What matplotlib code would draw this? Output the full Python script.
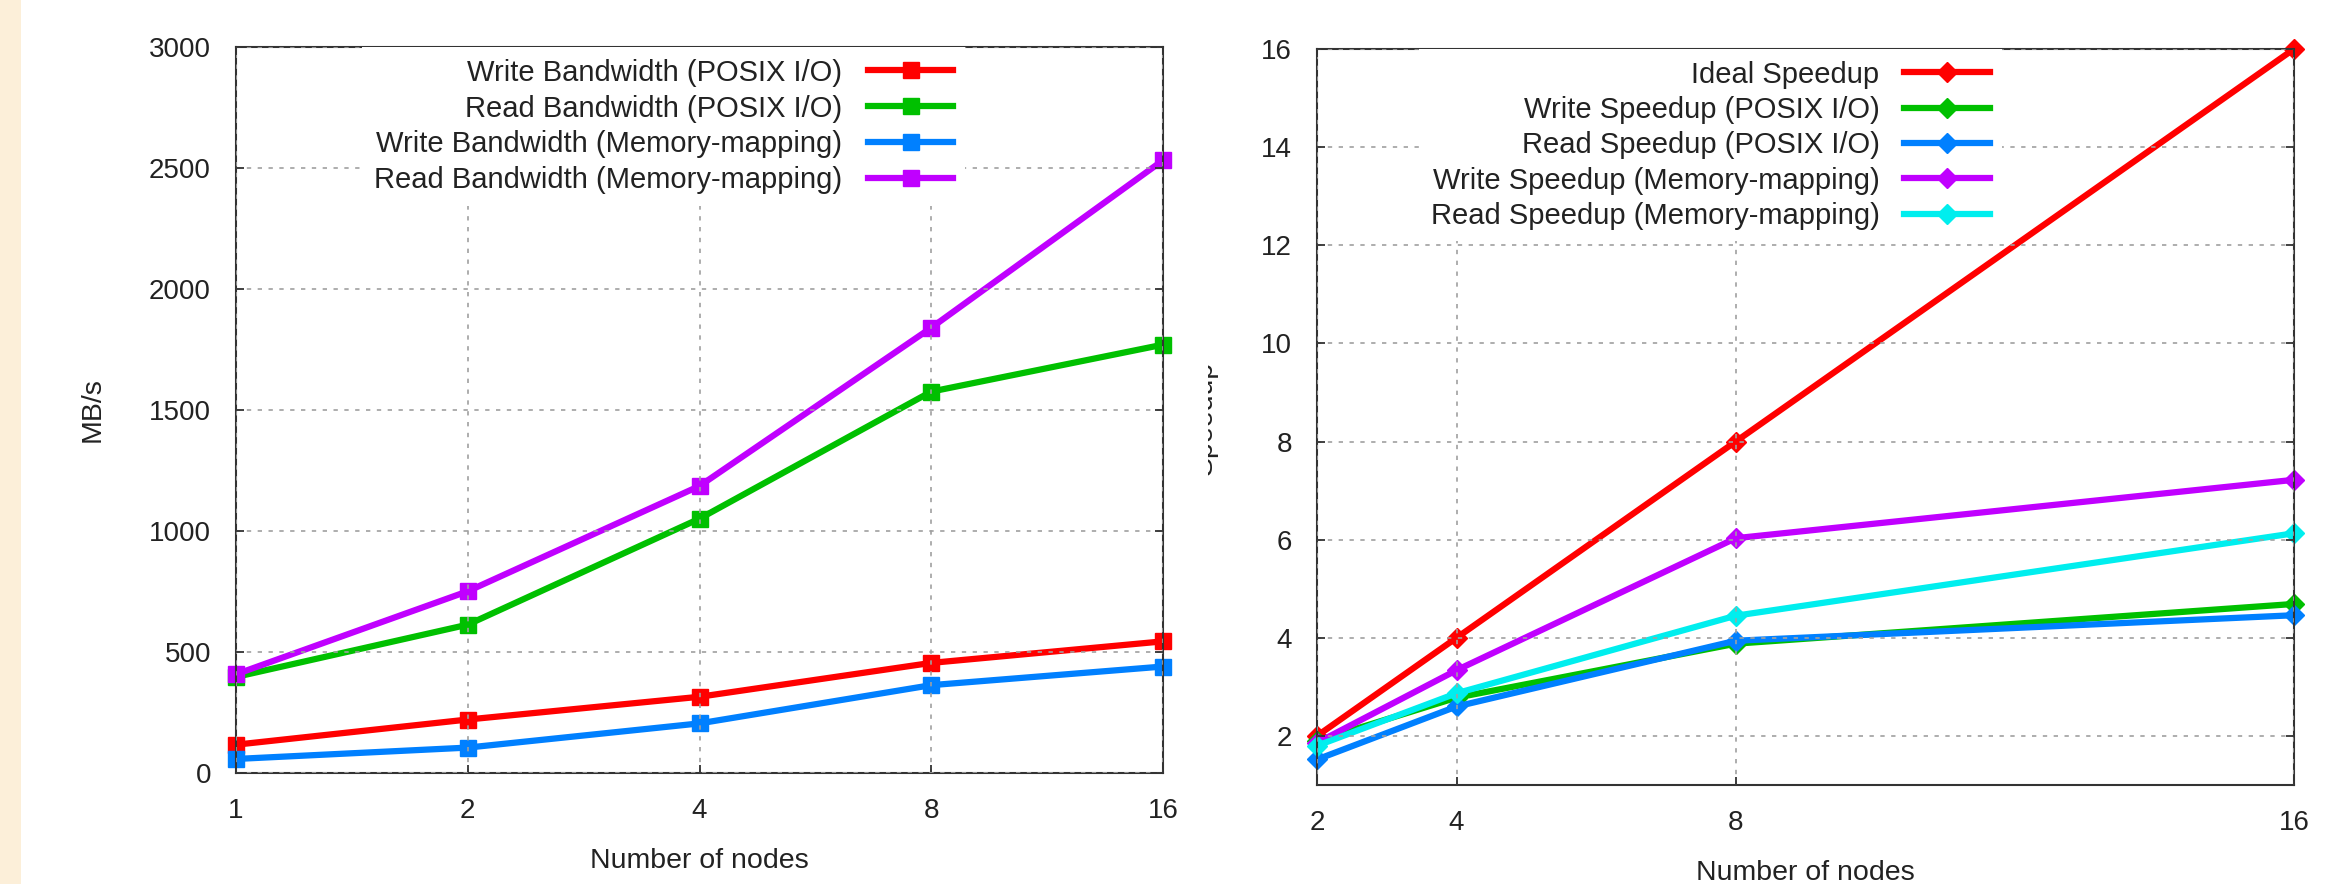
import matplotlib
matplotlib.use('Agg')
import matplotlib.pyplot as plt
from matplotlib.patches import Rectangle
from matplotlib.transforms import Bbox, TransformedBbox
from matplotlib.ticker import NullLocator

# node counts
nodes_bw = [1, 2, 4, 8, 16]
nodes_sp = [2, 4, 8, 16]

# bandwidth in MB/s
write_bw_posix = [117, 221, 315, 455, 544]
read_bw_posix = [397, 613, 1051, 1576, 1770]
write_bw_mmap = [58, 105, 205, 363, 440]
read_bw_mmap = [408, 751, 1186, 1840, 2532]

# speedups
ideal_sp = [2, 4, 8, 16]
write_sp_posix = [1.9, 2.78, 3.88, 4.69]
read_sp_posix = [1.52, 2.6, 3.94, 4.46]
write_sp_mmap = [1.86, 3.34, 6.03, 7.22]
read_sp_mmap = [1.8, 2.87, 4.45, 6.13]

bw_labels = ['Write Bandwidth (POSIX I/O)', 'Read Bandwidth (POSIX I/O)',
             'Write Bandwidth (Memory-mapping)', 'Read Bandwidth (Memory-mapping)']
sp_labels = ['Ideal Speedup', 'Write Speedup (POSIX I/O)', 'Read Speedup (POSIX I/O)',
             'Write Speedup (Memory-mapping)', 'Read Speedup (Memory-mapping)']

RED, GREEN, BLUE, PURPLE, CYAN = '#ff0000', '#00c000', '#0080ff', '#c000ff', '#00eeee'
TXT = '#222222'

plt.rcParams['font.family'] = ['Liberation Sans', 'DejaVu Sans']

W, H = 2336, 884
fig = plt.figure(figsize=(W / 100, H / 100), dpi=100)
fig.patch.set_facecolor('white')

# orange strip on the far left
fig.patches.append(Rectangle((0, 0), 21 / W, 1, transform=fig.transFigure,
                             facecolor='#fcefd9', edgecolor='none', zorder=0))


def px_axes(x0, y0, x1, y1):
    return fig.add_axes([x0 / W, (H - y1) / H, (x1 - x0) / W, (y1 - y0) / H])


def style_axes(ax):
    for s in ax.spines.values():
        s.set_color('#333333')
        s.set_linewidth(1.5)
    ax.tick_params(direction='in', length=6, width=1.3, color='#333333',
                   top=True, right=True, labelsize=20, labelcolor=TXT, pad=18)
    ax.grid(True, color='#a0a0a0', linestyle=(0, (2.6, 3.9)), linewidth=1.2)
    ax.set_axisbelow(False)


# ---- left: bandwidth
ax1 = px_axes(236, 47, 1163, 773)
style_axes(ax1)
ax1.set_xscale('log', base=2)
series = [(write_bw_posix, RED), (read_bw_posix, GREEN),
          (write_bw_mmap, BLUE), (read_bw_mmap, PURPLE)]
for (vals, c), lab in zip(series, bw_labels):
    ax1.plot(nodes_bw, vals, color=c, lw=4.5, marker='s', ms=11.5, label=lab, clip_on=False)
ax1.set_xlim(1, 16)
ax1.set_ylim(0, 3000)
ax1.set_xticks(nodes_bw)
ax1.set_xticklabels([str(n) for n in nodes_bw])
ax1.xaxis.set_minor_locator(NullLocator())
ax1.set_yticks(range(0, 3001, 500))
ax1.set_xlabel('Number of nodes', fontsize=20.5, color=TXT, labelpad=17)
ax1.set_ylabel('MB/s', fontsize=20.5, color=TXT, labelpad=31)
leg1 = ax1.legend(loc='upper right', bbox_to_anchor=(0.786, 1.0), markerfirst=False,
                  fontsize=21, handlelength=2.9, handletextpad=0.9, labelspacing=0.27,
                  borderpad=0.4, borderaxespad=0, frameon=True, fancybox=False,
                  facecolor='white', edgecolor='none', framealpha=1)
for t in leg1.get_texts():
    t.set_color(TXT)

# ---- right: speedup
ax2 = px_axes(1317, 49, 2294, 785)
style_axes(ax2)
series = [(ideal_sp, RED), (write_sp_posix, GREEN), (read_sp_posix, BLUE),
          (write_sp_mmap, PURPLE), (read_sp_mmap, CYAN)]
for (vals, c), lab in zip(series, sp_labels):
    ax2.plot(nodes_sp, vals, color=c, lw=4.5, marker='D', ms=10, label=lab, clip_on=False)
ax2.set_xlim(2, 16)
ax2.set_ylim(1, 16)
ax2.set_xticks(nodes_sp)
ax2.set_yticks(range(2, 17, 2))
ax2.set_xlabel('Number of nodes', fontsize=20.5, color=TXT, labelpad=17)
leg2 = ax2.legend(loc='upper right', bbox_to_anchor=(0.701, 1.0), markerfirst=False,
                  fontsize=21, handlelength=2.97, handletextpad=0.83, labelspacing=0.25,
                  borderpad=0.4, borderaxespad=0, frameon=True, fancybox=False,
                  facecolor='white', edgecolor='none', framealpha=1)
for t in leg2.get_texts():
    t.set_color(TXT)

# y label of the speedup plot, cut off on its left side as in the source image
sp_lab = fig.text(1218 / W, (H - 418) / H, 'Speedup', rotation=90, fontsize=20.5,
                  color=TXT, ha='right', va='center')
sp_lab.set_clip_box(TransformedBbox(Bbox([[1208 / W, 0], [1, 1]]), fig.transFigure))
sp_lab.set_clip_on(True)

fig.savefig('out.png', dpi=100, facecolor='white')
